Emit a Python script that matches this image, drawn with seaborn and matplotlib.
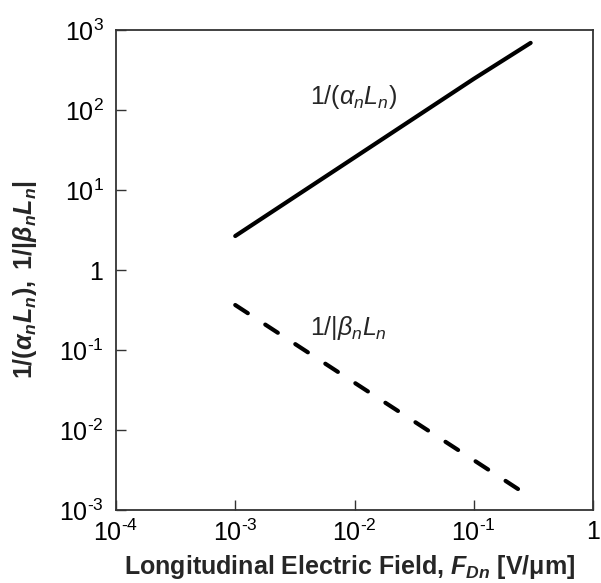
import matplotlib
matplotlib.use("Agg")
import matplotlib.pyplot as plt
import matplotlib.ticker as mticker
import numpy as np
import pandas as pd
import seaborn as sns

# Longitudinal field [V/um] and the two inverse lengths
field_alpha = [1.0e-3, 1.0e-2, 1.0e-1, 0.30]
inv_alpha_L = [2.66, 25.5, 245.0, 690.0]

field_beta = [1.0e-3, 1.0e-2, 1.0e-1, 0.235]
inv_beta_L = [0.365, 0.039, 0.0042, 0.00183]

HY = "\u2010"  # short hyphen used in the exponents
x_ticks = [1e-4, 1e-3, 1e-2, 1e-1, 1]
x_tick_labels = [rf"$10^{{{HY}4}}$", rf"$10^{{{HY}3}}$", rf"$10^{{{HY}2}}$",
                 rf"$10^{{{HY}1}}$", r"$1$"]
y_ticks = [1e-3, 1e-2, 1e-1, 1, 1e1, 1e2, 1e3]
y_tick_labels = [rf"$10^{{{HY}3}}$", rf"$10^{{{HY}2}}$", rf"$10^{{{HY}1}}$", r"$1$",
                 r"$10^{1}$", r"$10^{2}$", r"$10^{3}$"]

sns.set_style("ticks")
plt.rcParams["font.family"] = ["Liberation Sans", "DejaVu Sans"]
plt.rcParams["mathtext.fontset"] = "custom"
plt.rcParams["mathtext.rm"] = "Liberation Sans"
plt.rcParams["mathtext.it"] = "Liberation Sans:italic"
plt.rcParams["mathtext.bf"] = "Liberation Sans:bold"
plt.rcParams["mathtext.bfit"] = "Liberation Sans:bold:italic"

fig = plt.figure(figsize=(6.01, 5.83), dpi=100)
ax = fig.add_axes([116 / 601, 1 - 510 / 583, (593 - 116) / 601, (510 - 30) / 583])

df_a = pd.DataFrame({"field": field_alpha, "val": inv_alpha_L})
df_b = pd.DataFrame({"field": field_beta, "val": inv_beta_L})

sns.lineplot(data=df_a, x="field", y="val", ax=ax, color="black",
             linewidth=3.0, solid_capstyle="round")
sns.lineplot(data=df_b, x="field", y="val", ax=ax, color="black",
             linewidth=3.0, dash_capstyle="round")
ax.lines[1].set_dashes((3.6, 5.0))

ax.set_xscale("log")
ax.set_yscale("log")
ax.set_xlim(1e-4, 1)
ax.set_ylim(1e-3, 1e3)

ax.xaxis.set_major_locator(mticker.FixedLocator(x_ticks))
ax.xaxis.set_major_formatter(mticker.FixedFormatter(x_tick_labels))
ax.yaxis.set_major_locator(mticker.FixedLocator(y_ticks))
ax.yaxis.set_major_formatter(mticker.FixedFormatter(y_tick_labels))
ax.xaxis.set_minor_locator(mticker.NullLocator())
ax.yaxis.set_minor_locator(mticker.NullLocator())

ax.tick_params(axis="both", direction="in", length=7, width=1.0,
               color="#333333", labelsize=18, labelcolor="black")
ax.tick_params(axis="x", pad=7)
ax.tick_params(axis="y", pad=9)

for s in ax.spines.values():
    s.set_visible(True)
    s.set_linewidth(1.3)
    s.set_color("#333333")

ax.set_xlabel(r"Longitudinal Electric Field, $\mathbfit{F}_{\mathbfit{Dn}}$ [V/$\mathbf{\mu}$m]",
              fontsize=18, fontweight="bold")
ax.xaxis.label.set_va("bottom")
ax.set_ylabel(r"$\mathbf{1/(}\mathbfit{\alpha}_{\mathbfit{n}}\mathbfit{L}_{\mathbfit{n}}\mathbf{),\ 1/|}"
              r"\mathbfit{\beta}_{\mathbfit{n}}\mathbfit{L}_{\mathbfit{n}}\mathbf{|}$",
              fontsize=18, fontweight="bold")
ax.xaxis.set_label_coords(0.49, -0.148)
ax.yaxis.set_label_coords(-0.162, 0.48)

ax.text(4.2e-3, 145, r"$1/(\mathit{\alpha}_{\mathit{n}}\mathit{L}_{\mathit{n}})$",
        fontsize=18, ha="left", va="center")
ax.text(4.2e-3, 0.188, r"$1/|\mathit{\beta}_{\mathit{n}}\mathit{L}_{\mathit{n}}$",
        fontsize=18, ha="left", va="center")

fig.savefig("out.png", dpi=100)
